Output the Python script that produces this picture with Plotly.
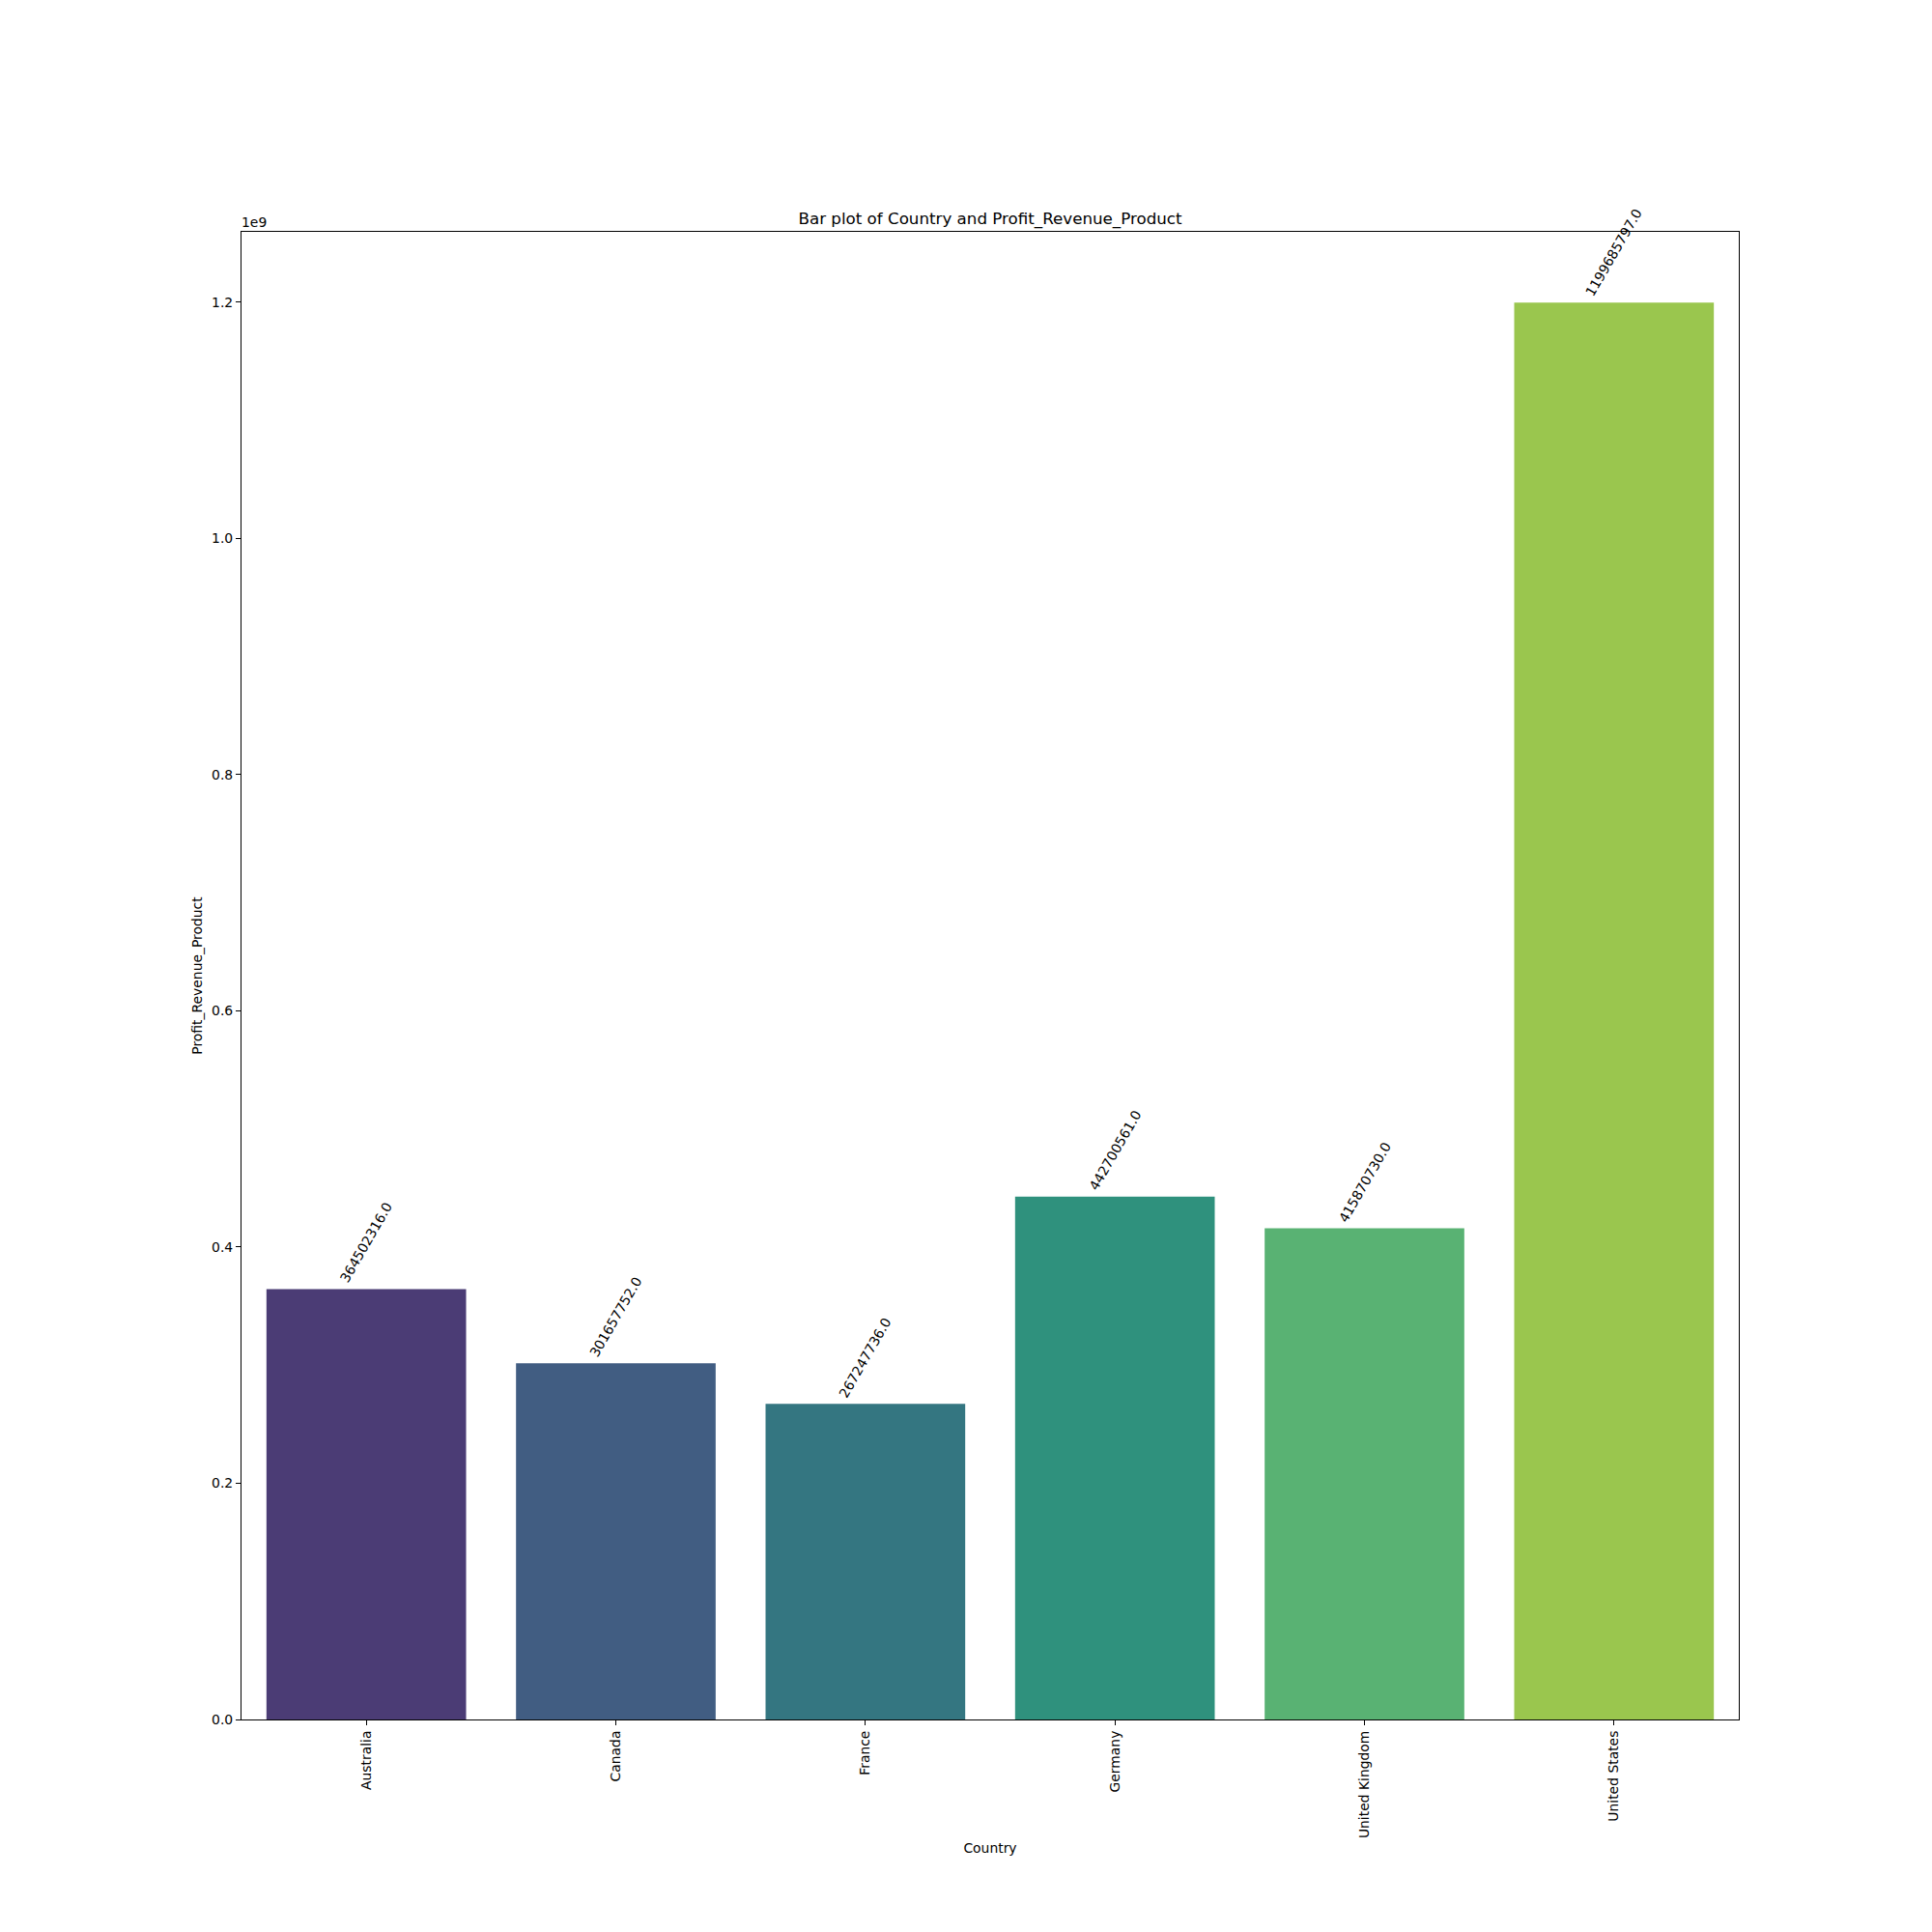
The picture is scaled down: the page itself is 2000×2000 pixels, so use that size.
import plotly.graph_objects as go

countries = ["Australia", "Canada", "France", "Germany", "United Kingdom", "United States"]
values = [364502316.0, 301657752.0, 267247736.0, 442700561.0, 415870730.0, 1199685797.0]
bar_colors = ["#4B3C75", "#415D82", "#347681", "#2F917D", "#59B273", "#9AC64E"]
ytick_vals = [0.0, 0.2e9, 0.4e9, 0.6e9, 0.8e9, 1.0e9, 1.2e9]
ytick_text = ["0.0", "0.2", "0.4", "0.6", "0.8", "1.0", "1.2"]

FONT = "DejaVu Sans"
TICK_PX = 13.9
TITLE_PX = 16.7

fig = go.Figure()
fig.add_trace(go.Bar(
    x=countries, y=values, width=0.8,
    marker=dict(color=bar_colors, line=dict(width=0)),
    showlegend=False, hoverinfo="x+y",
))

annotations = []
for c, v in zip(countries, values):
    annotations.append(dict(
        x=c, y=v, xref="x", yref="y", text=f"{v:.1f}", textangle=-60,
        xanchor="center", yanchor="bottom", showarrow=False, yshift=1,
        font=dict(family=FONT, size=TICK_PX, color="black"),
    ))
annotations.append(dict(
    x=0, y=1, xref="paper", yref="paper", text="1e9", xanchor="left", yanchor="bottom",
    showarrow=False, yshift=0, xshift=-2,
    font=dict(family=FONT, size=TICK_PX, color="black"),
))

ymax = max(values) * 1.05

fig.update_layout(
    width=2000, height=2000,
    margin=dict(l=242, r=208, t=232, b=228, autoexpand=False),
    paper_bgcolor="white", plot_bgcolor="white",
    font=dict(family=FONT, size=TICK_PX, color="black"),
    title=dict(text="Bar plot of Country and Profit_Revenue_Product", x=0.5, xref="paper", xanchor="center",
               y=1, yref="paper", yanchor="bottom", pad=dict(b=8),
               font=dict(family=FONT, size=TITLE_PX, color="black")),
    annotations=annotations,
    bargap=0.2,
)
fig.update_xaxes(
    range=[-0.5, 5.5], showline=True, mirror=True, linecolor="black", linewidth=1.1,
    ticks="outside", ticklen=5, tickwidth=1.1, tickcolor="black", tickangle=-90,
    showgrid=False, zeroline=False, automargin=False,
    tickfont=dict(family=FONT, size=TICK_PX, color="black"),
    title=dict(text="Country", standoff=6, font=dict(family=FONT, size=TICK_PX, color="black")),
)
fig.update_yaxes(
    range=[0, ymax], showline=True, mirror=True, linecolor="black", linewidth=1.1,
    ticks="outside", ticklen=5, tickwidth=1.1, tickcolor="black",
    tickmode="array", tickvals=ytick_vals, ticktext=ytick_text,
    showgrid=False, zeroline=False, automargin=False,
    tickfont=dict(family=FONT, size=TICK_PX, color="black"),
    title=dict(text="Profit_Revenue_Product", standoff=6, font=dict(family=FONT, size=TICK_PX, color="black")),
)

fig.write_html("out.html")
